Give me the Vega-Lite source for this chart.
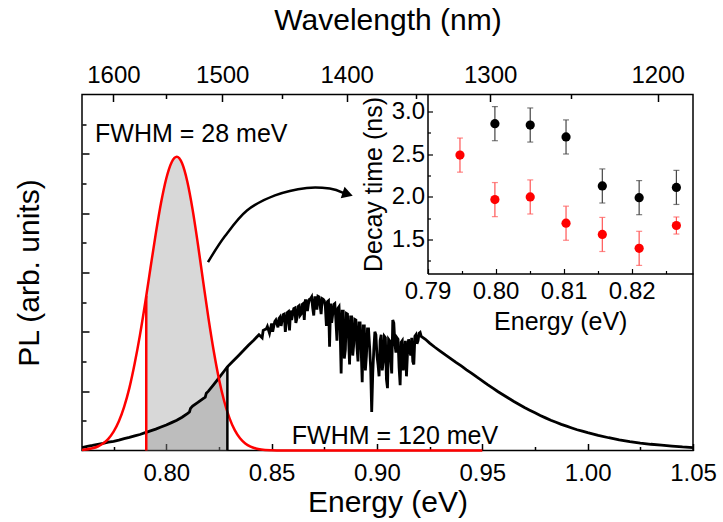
{
  "$schema": "https://vega.github.io/schema/vega-lite/v6.json",
  "width": 611,
  "height": 356,
  "autosize": {"type": "none"},
  "padding": {"left": 82, "top": 94.5, "right": 30, "bottom": 71.5},
  "background": "white",
  "config": {
    "font": "Liberation Sans",
    "view": {"stroke": "black", "strokeWidth": 1.5},
    "axis": {"labelFont": "Liberation Sans", "titleFont": "Liberation Sans", "labelColor": "black", "titleColor": "black", "tickColor": "black", "domainColor": "black", "grid": false, "titleFontWeight": "normal", "labelFlush": false, "labelOverlap": false}
  },
  "datasets": {
    "red": [
      {"E": 0.760, "PL": 0.02}, {"E": 0.765, "PL": 0.075}, {"E": 0.7675, "PL": 0.135}, {"E": 0.770, "PL": 0.236},
      {"E": 0.7725, "PL": 0.394}, {"E": 0.775, "PL": 0.635}, {"E": 0.7775, "PL": 0.985}, {"E": 0.780, "PL": 1.47},
      {"E": 0.7825, "PL": 2.11}, {"E": 0.785, "PL": 2.93}, {"E": 0.7875, "PL": 3.89}, {"E": 0.7905, "PL": 5.21},
      {"E": 0.7925, "PL": 6.15}, {"E": 0.795, "PL": 7.30}, {"E": 0.7975, "PL": 8.34}, {"E": 0.800, "PL": 9.17},
      {"E": 0.8025, "PL": 9.71}, {"E": 0.805, "PL": 9.9}, {"E": 0.8075, "PL": 9.68}, {"E": 0.810, "PL": 9.06},
      {"E": 0.8125, "PL": 8.12}, {"E": 0.815, "PL": 6.96}, {"E": 0.8175, "PL": 5.70}, {"E": 0.820, "PL": 4.47},
      {"E": 0.8225, "PL": 3.36}, {"E": 0.825, "PL": 2.41}, {"E": 0.8275, "PL": 1.66}, {"E": 0.829, "PL": 1.30},
      {"E": 0.830, "PL": 1.09}, {"E": 0.8325, "PL": 0.685}, {"E": 0.835, "PL": 0.413}, {"E": 0.8375, "PL": 0.238},
      {"E": 0.840, "PL": 0.131}, {"E": 0.8425, "PL": 0.07}, {"E": 0.845, "PL": 0.035}, {"E": 0.850, "PL": 0.008},
      {"E": 0.855, "PL": 0}, {"E": 0.95, "PL": 0}
    ],
    "black": [
      {"E": 0.760, "PL": 0.10}, {"E": 0.7625, "PL": 0.14}, {"E": 0.765, "PL": 0.17}, {"E": 0.7675, "PL": 0.21},
      {"E": 0.770, "PL": 0.24}, {"E": 0.7725, "PL": 0.28}, {"E": 0.775, "PL": 0.31}, {"E": 0.7775, "PL": 0.35},
      {"E": 0.780, "PL": 0.40}, {"E": 0.7825, "PL": 0.44}, {"E": 0.785, "PL": 0.49}, {"E": 0.7875, "PL": 0.54},
      {"E": 0.790, "PL": 0.60}, {"E": 0.7905, "PL": 0.61}, {"E": 0.7925, "PL": 0.66}, {"E": 0.795, "PL": 0.72},
      {"E": 0.7975, "PL": 0.79}, {"E": 0.800, "PL": 0.86}, {"E": 0.8025, "PL": 0.94}, {"E": 0.805, "PL": 1.02},
      {"E": 0.8075, "PL": 1.12}, {"E": 0.810, "PL": 1.24}, {"E": 0.811, "PL": 1.30}, {"E": 0.8115, "PL": 1.42},
      {"E": 0.8125, "PL": 1.50}, {"E": 0.815, "PL": 1.62}, {"E": 0.8175, "PL": 1.75}, {"E": 0.8185, "PL": 1.80},
      {"E": 0.819, "PL": 1.93}, {"E": 0.820, "PL": 2.00}, {"E": 0.8225, "PL": 2.22}, {"E": 0.825, "PL": 2.45},
      {"E": 0.8275, "PL": 2.68}, {"E": 0.829, "PL": 2.82}, {"E": 0.8315, "PL": 3.00}, {"E": 0.834, "PL": 3.18},
      {"E": 0.8365, "PL": 3.36}, {"E": 0.839, "PL": 3.55}, {"E": 0.8415, "PL": 3.72}, {"E": 0.844, "PL": 3.90},
      {"E": 0.846, "PL": 4.05}, {"E": 0.848, "PL": 4.18}, {"E": 0.849, "PL": 3.95}, {"E": 0.850, "PL": 4.28},
      {"E": 0.852, "PL": 4.40}, {"E": 0.853, "PL": 4.15}, {"E": 0.854, "PL": 4.50}, {"E": 0.856, "PL": 4.60},
      {"E": 0.857, "PL": 4.30}, {"E": 0.858, "PL": 4.68}, {"E": 0.8585, "PL": 4.05}, {"E": 0.859, "PL": 4.72},
      {"E": 0.861, "PL": 4.80}, {"E": 0.862, "PL": 4.45}, {"E": 0.863, "PL": 4.88}, {"E": 0.864, "PL": 4.60},
      {"E": 0.865, "PL": 4.95}, {"E": 0.866, "PL": 5.05}, {"E": 0.867, "PL": 4.70}, {"E": 0.868, "PL": 5.10},
      {"E": 0.869, "PL": 5.18}, {"E": 0.870, "PL": 4.55}, {"E": 0.871, "PL": 5.15}, {"E": 0.872, "PL": 5.20},
      {"E": 0.873, "PL": 4.90}, {"E": 0.874, "PL": 5.12}, {"E": 0.875, "PL": 5.05}, {"E": 0.876, "PL": 4.20},
      {"E": 0.877, "PL": 5.05}, {"E": 0.8775, "PL": 3.50}, {"E": 0.878, "PL": 4.95}, {"E": 0.879, "PL": 4.60},
      {"E": 0.880, "PL": 4.95}, {"E": 0.881, "PL": 3.70}, {"E": 0.882, "PL": 4.85}, {"E": 0.883, "PL": 2.60},
      {"E": 0.884, "PL": 4.70}, {"E": 0.885, "PL": 3.40}, {"E": 0.886, "PL": 4.60}, {"E": 0.887, "PL": 2.90},
      {"E": 0.888, "PL": 4.50}, {"E": 0.889, "PL": 3.60}, {"E": 0.890, "PL": 4.40}, {"E": 0.891, "PL": 3.00},
      {"E": 0.892, "PL": 4.30}, {"E": 0.893, "PL": 2.30}, {"E": 0.894, "PL": 4.20}, {"E": 0.895, "PL": 3.20},
      {"E": 0.896, "PL": 4.10}, {"E": 0.897, "PL": 2.80}, {"E": 0.8975, "PL": 1.30}, {"E": 0.898, "PL": 2.60},
      {"E": 0.899, "PL": 4.00}, {"E": 0.900, "PL": 3.20}, {"E": 0.901, "PL": 2.50}, {"E": 0.902, "PL": 3.90},
      {"E": 0.903, "PL": 3.00}, {"E": 0.904, "PL": 3.80}, {"E": 0.905, "PL": 2.10}, {"E": 0.906, "PL": 3.70},
      {"E": 0.907, "PL": 2.60}, {"E": 0.908, "PL": 4.30}, {"E": 0.909, "PL": 3.30}, {"E": 0.910, "PL": 3.75},
      {"E": 0.911, "PL": 2.20}, {"E": 0.912, "PL": 3.70}, {"E": 0.913, "PL": 3.10}, {"E": 0.914, "PL": 2.50},
      {"E": 0.915, "PL": 3.75}, {"E": 0.916, "PL": 3.20}, {"E": 0.917, "PL": 3.00}, {"E": 0.918, "PL": 3.85},
      {"E": 0.919, "PL": 3.60}, {"E": 0.920, "PL": 3.95}, {"E": 0.921, "PL": 3.85}, {"E": 0.923, "PL": 3.75},
      {"E": 0.925, "PL": 3.62}, {"E": 0.9275, "PL": 3.48}, {"E": 0.930, "PL": 3.35}, {"E": 0.9325, "PL": 3.22},
      {"E": 0.935, "PL": 3.10}, {"E": 0.9375, "PL": 2.97}, {"E": 0.940, "PL": 2.85}, {"E": 0.9425, "PL": 2.72},
      {"E": 0.945, "PL": 2.60}, {"E": 0.9475, "PL": 2.47}, {"E": 0.950, "PL": 2.35}, {"E": 0.9525, "PL": 2.22},
      {"E": 0.955, "PL": 2.10}, {"E": 0.9575, "PL": 1.98}, {"E": 0.960, "PL": 1.87}, {"E": 0.9625, "PL": 1.76},
      {"E": 0.965, "PL": 1.65}, {"E": 0.9675, "PL": 1.55}, {"E": 0.970, "PL": 1.45}, {"E": 0.9725, "PL": 1.36},
      {"E": 0.975, "PL": 1.27}, {"E": 0.9775, "PL": 1.18}, {"E": 0.980, "PL": 1.10}, {"E": 0.9825, "PL": 1.02},
      {"E": 0.985, "PL": 0.95}, {"E": 0.9875, "PL": 0.88}, {"E": 0.990, "PL": 0.82}, {"E": 0.9925, "PL": 0.76},
      {"E": 0.995, "PL": 0.70}, {"E": 0.9975, "PL": 0.65}, {"E": 1.000, "PL": 0.60}, {"E": 1.005, "PL": 0.51},
      {"E": 1.010, "PL": 0.43}, {"E": 1.015, "PL": 0.36}, {"E": 1.020, "PL": 0.30}, {"E": 1.025, "PL": 0.25},
      {"E": 1.030, "PL": 0.21}, {"E": 1.035, "PL": 0.18}, {"E": 1.040, "PL": 0.15}, {"E": 1.045, "PL": 0.12},
      {"E": 1.050, "PL": 0.10},
      {"E": 0.8455, "PL": 3.80}, {"E": 0.8475, "PL": 4.10}, {"E": 0.8505, "PL": 4.00}, {"E": 0.8515, "PL": 4.35},
      {"E": 0.8535, "PL": 4.45}, {"E": 0.8545, "PL": 4.20}, {"E": 0.8555, "PL": 4.58}, {"E": 0.8565, "PL": 4.00},
      {"E": 0.8575, "PL": 4.65}, {"E": 0.8595, "PL": 4.40}, {"E": 0.8605, "PL": 4.78}, {"E": 0.8615, "PL": 4.30},
      {"E": 0.8625, "PL": 4.85}, {"E": 0.8635, "PL": 4.55}, {"E": 0.8645, "PL": 4.92}, {"E": 0.8655, "PL": 4.40},
      {"E": 0.8665, "PL": 5.05}, {"E": 0.8675, "PL": 4.95}, {"E": 0.8685, "PL": 5.12}, {"E": 0.8695, "PL": 4.80},
      {"E": 0.8705, "PL": 5.15}, {"E": 0.8715, "PL": 4.75}, {"E": 0.8725, "PL": 5.18}, {"E": 0.8735, "PL": 4.60},
      {"E": 0.8745, "PL": 5.10}, {"E": 0.8755, "PL": 4.85}, {"E": 0.8765, "PL": 5.02}, {"E": 0.8785, "PL": 4.30},
      {"E": 0.8795, "PL": 4.92}, {"E": 0.8805, "PL": 4.40}, {"E": 0.8815, "PL": 4.80}, {"E": 0.8825, "PL": 4.10},
      {"E": 0.8835, "PL": 4.70}, {"E": 0.8845, "PL": 3.10}, {"E": 0.8855, "PL": 4.62}, {"E": 0.8865, "PL": 3.80},
      {"E": 0.8875, "PL": 4.50}, {"E": 0.8885, "PL": 3.20}, {"E": 0.8895, "PL": 4.42}, {"E": 0.8905, "PL": 3.50},
      {"E": 0.8915, "PL": 4.30}, {"E": 0.8925, "PL": 3.40}, {"E": 0.8935, "PL": 4.20}, {"E": 0.8945, "PL": 2.70},
      {"E": 0.8955, "PL": 4.10}, {"E": 0.8965, "PL": 3.50}, {"E": 0.8985, "PL": 3.40}, {"E": 0.8995, "PL": 3.90},
      {"E": 0.9005, "PL": 2.90}, {"E": 0.9015, "PL": 3.70}, {"E": 0.9025, "PL": 2.70}, {"E": 0.9035, "PL": 3.85},
      {"E": 0.9045, "PL": 2.40}, {"E": 0.9055, "PL": 3.75}, {"E": 0.9065, "PL": 3.10}, {"E": 0.9075, "PL": 4.40},
      {"E": 0.9085, "PL": 3.60}, {"E": 0.9095, "PL": 3.80}, {"E": 0.9105, "PL": 2.80}, {"E": 0.9115, "PL": 3.65},
      {"E": 0.9125, "PL": 2.70}, {"E": 0.9135, "PL": 3.70}, {"E": 0.9145, "PL": 3.30}, {"E": 0.9155, "PL": 3.40},
      {"E": 0.9165, "PL": 3.80}, {"E": 0.9175, "PL": 2.90}, {"E": 0.9185, "PL": 3.90}, {"E": 0.9195, "PL": 3.70},
      {"E": 0.9205, "PL": 3.98}
    ],
    "edges": [
      {"E": 0.7905, "PL": 0, "PL2": 5.21, "c": "red"},
      {"E": 0.829, "PL": 0, "PL2": 2.82, "c": "black"}
    ],
    "arrow": [
      {"E": 0.8198, "PL": 6.35}, {"E": 0.8278, "PL": 7.22}, {"E": 0.8383, "PL": 8.09},
      {"E": 0.8516, "PL": 8.60}, {"E": 0.8667, "PL": 8.85}, {"E": 0.8776, "PL": 8.83}, {"E": 0.8840, "PL": 8.68}
    ],
    "head": [{"E": 0.8861, "PL": 8.64}],
    "notes": [
      {"t": "FWHM = 28 meV", "E": 0.7662, "PL": 10.4},
      {"t": "FWHM = 120 meV", "E": 0.8596, "PL": 0.22}
    ],
    "wl": [
      {"nm": 1600, "E": 0.7749}, {"nm": 1500, "E": 0.82656}, {"nm": 1400, "E": 0.8856}, {"nm": 1300, "E": 0.95372}, {"nm": 1200, "E": 1.0332}
    ],
    "inset": [
      {"E": 0.79990, "tau": 2.858, "lo": 2.658, "hi": 3.058, "s": "black"},
      {"E": 0.80509, "tau": 2.842, "lo": 2.642, "hi": 3.042, "s": "black"},
      {"E": 0.81035, "tau": 2.702, "lo": 2.502, "hi": 2.902, "s": "black"},
      {"E": 0.81568, "tau": 2.127, "lo": 1.927, "hi": 2.327, "s": "black"},
      {"E": 0.82109, "tau": 1.990, "lo": 1.790, "hi": 2.190, "s": "black"},
      {"E": 0.82656, "tau": 2.110, "lo": 1.910, "hi": 2.310, "s": "black"},
      {"E": 0.79477, "tau": 2.489, "lo": 2.289, "hi": 2.689, "s": "red"},
      {"E": 0.79990, "tau": 1.967, "lo": 1.767, "hi": 2.167, "s": "red"},
      {"E": 0.80509, "tau": 1.998, "lo": 1.798, "hi": 2.198, "s": "red"},
      {"E": 0.81035, "tau": 1.690, "lo": 1.490, "hi": 1.890, "s": "red"},
      {"E": 0.81568, "tau": 1.558, "lo": 1.358, "hi": 1.758, "s": "red"},
      {"E": 0.82109, "tau": 1.395, "lo": 1.195, "hi": 1.595, "s": "red"},
      {"E": 0.82656, "tau": 1.663, "lo": 1.563, "hi": 1.763, "s": "red"}
    ]
  },
  "resolve": {"scale": {"x": "independent", "y": "independent"}},
  "layer": [
    {
      "encoding": {
        "x": {
          "field": "E", "type": "quantitative",
          "scale": {"domain": [0.76, 1.05], "nice": false, "zero": false},
          "axis": {
            "orient": "bottom", "title": "Energy (eV)",
            "values": [0.775, 0.8, 0.825, 0.85, 0.875, 0.9, 0.925, 0.95, 0.975, 1.0, 1.025, 1.05],
            "labelExpr": "round(datum.value*1000) % 50 == 0 ? format(datum.value, '.2f') : ''",
            "tickSize": {"condition": {"test": "round(datum.value*1000) % 50 == 0", "value": -7}, "value": -4},
            "tickWidth": 1.5, "domain": false, "labelFontSize": 24, "labelPadding": 18,
            "titleFontSize": 30, "titlePadding": -1
          }
        },
        "y": {
          "field": "PL", "type": "quantitative",
          "scale": {"domain": [0, 12], "nice": false, "zero": false},
          "axis": {
            "orient": "left", "title": "PL (arb. units)",
            "values": [1, 2, 3, 4, 5, 6, 7, 8, 9, 10, 11],
            "labels": false,
            "tickSize": {"condition": {"test": "datum.value % 2 == 0", "value": -7}, "value": -4},
            "tickWidth": 1.5, "domain": false, "titleFontSize": 30, "titlePadding": 37
          }
        }
      },
      "layer": [
        {"data": {"name": "red"}, "transform": [{"filter": "datum.E >= 0.7904 && datum.E <= 0.8291"}], "mark": {"type": "area", "color": "#7f7f7f", "opacity": 0.3, "interpolate": "monotone"}},
        {"data": {"name": "black"}, "transform": [{"filter": "datum.E >= 0.7904 && datum.E <= 0.8291"}], "mark": {"type": "area", "color": "#7f7f7f", "opacity": 0.3}},
        {"data": {"name": "black"}, "mark": {"type": "line", "color": "black", "strokeWidth": 2.8}},
        {"data": {"name": "red"}, "mark": {"type": "line", "color": "#ff0000", "strokeWidth": 2.5, "interpolate": "monotone"}},
        {"data": {"name": "edges"}, "mark": {"type": "rule", "strokeWidth": 2.5}, "encoding": {"y2": {"field": "PL2"}, "color": {"condition": {"test": "datum.c == 'red'", "value": "#ff0000"}, "value": "black"}}},
        {"data": {"name": "arrow"}, "mark": {"type": "line", "color": "black", "strokeWidth": 2.5, "interpolate": "cardinal"}},
        {"data": {"name": "head"}, "mark": {"type": "point", "shape": "triangle-right", "filled": true, "color": "black", "opacity": 1, "size": 150, "angle": 18}},
        {"data": {"name": "notes"}, "mark": {"type": "text", "align": "left", "baseline": "alphabetic", "fontSize": 25, "font": "Liberation Sans", "color": "black"}, "encoding": {"text": {"field": "t"}}}
      ]
    },
    {
      "data": {"name": "wl"},
      "mark": {"type": "tick", "opacity": 0},
      "encoding": {
        "x": {
          "field": "E", "type": "quantitative",
          "scale": {"domain": [0.76, 1.05], "nice": false, "zero": false},
          "axis": {
            "orient": "top", "title": "Wavelength (nm)",
            "values": [0.7749, 0.7999, 0.82656, 0.85506, 0.8856, 0.9184, 0.95372, 0.99187, 1.0332],
            "labelExpr": "round(1239.84/datum.value) % 100 == 0 ? format(round(1239.84/datum.value), 'd') : ''",
            "tickSize": {"condition": {"test": "round(1239.84/datum.value) % 100 == 0", "value": -7}, "value": -4},
            "tickWidth": 1.5, "domain": false, "labelFontSize": 24, "labelPadding": 14,
            "titleFontSize": 30, "titlePadding": 25
          }
        }
      }
    },
    {
      "data": {"name": "inset"},
      "encoding": {
        "x": {
          "field": "E", "type": "quantitative",
          "scale": {"domain": [0.79, 0.829], "nice": false, "zero": false, "range": [345.5, 611]},
          "axis": {
            "orient": "bottom", "offset": -177, "title": "Energy (eV)",
            "values": [0.79, 0.795, 0.8, 0.805, 0.81, 0.815, 0.82, 0.825],
            "labelExpr": "round(datum.value*1000) % 10 == 0 ? format(datum.value, '.2f') : ''",
            "tickSize": {"condition": {"test": "round(datum.value*1000) % 10 == 0", "value": -5}, "value": -3},
            "tickWidth": 1.2, "domain": true, "domainWidth": 1.5, "labelFontSize": 24, "labelPadding": 11,
            "titleFontSize": 25, "titlePadding": 4
          }
        },
        "y": {
          "field": "tau", "type": "quantitative", "title": "Decay time (ns)",
          "scale": {"domain": [1.1, 3.2], "nice": false, "zero": false, "range": [179, 0]},
          "axis": {
            "orient": "left", "offset": -345.5,
            "values": [1.25, 1.5, 1.75, 2.0, 2.25, 2.5, 2.75, 3.0],
            "labelExpr": "round(datum.value*100) % 50 == 0 ? format(datum.value, '.1f') : ''",
            "tickSize": {"condition": {"test": "round(datum.value*100) % 50 == 0", "value": -5}, "value": -3},
            "tickWidth": 1.2, "domain": true, "domainWidth": 1.5, "labelFontSize": 24, "labelPadding": 8,
            "titleFontSize": 25, "titlePadding": 5
          }
        }
      },
      "layer": [
        {"mark": {"type": "rule", "strokeWidth": 1.2}, "encoding": {
          "y": {"field": "lo", "type": "quantitative", "title": "Decay time (ns)", "scale": {"domain": [1.1, 3.2], "nice": false, "zero": false, "range": [179, 0]}},
          "y2": {"field": "hi"},
          "color": {"condition": {"test": "datum.s == 'black'", "value": "#444444"}, "value": "#ff5555"}}},
        {"mark": {"type": "tick", "orient": "horizontal", "size": 6, "thickness": 1.2}, "encoding": {
          "y": {"field": "lo", "type": "quantitative", "title": "Decay time (ns)", "scale": {"domain": [1.1, 3.2], "nice": false, "zero": false, "range": [179, 0]}},
          "color": {"condition": {"test": "datum.s == 'black'", "value": "#444444"}, "value": "#ff5555"}}},
        {"mark": {"type": "tick", "orient": "horizontal", "size": 6, "thickness": 1.2}, "encoding": {
          "y": {"field": "hi", "type": "quantitative", "title": "Decay time (ns)", "scale": {"domain": [1.1, 3.2], "nice": false, "zero": false, "range": [179, 0]}},
          "color": {"condition": {"test": "datum.s == 'black'", "value": "#444444"}, "value": "#ff5555"}}},
        {"mark": {"type": "point", "filled": true, "size": 85, "opacity": 1}, "encoding": {
          "color": {"condition": {"test": "datum.s == 'black'", "value": "black"}, "value": "#ff0000"}}}
      ]
    }
  ]
}
